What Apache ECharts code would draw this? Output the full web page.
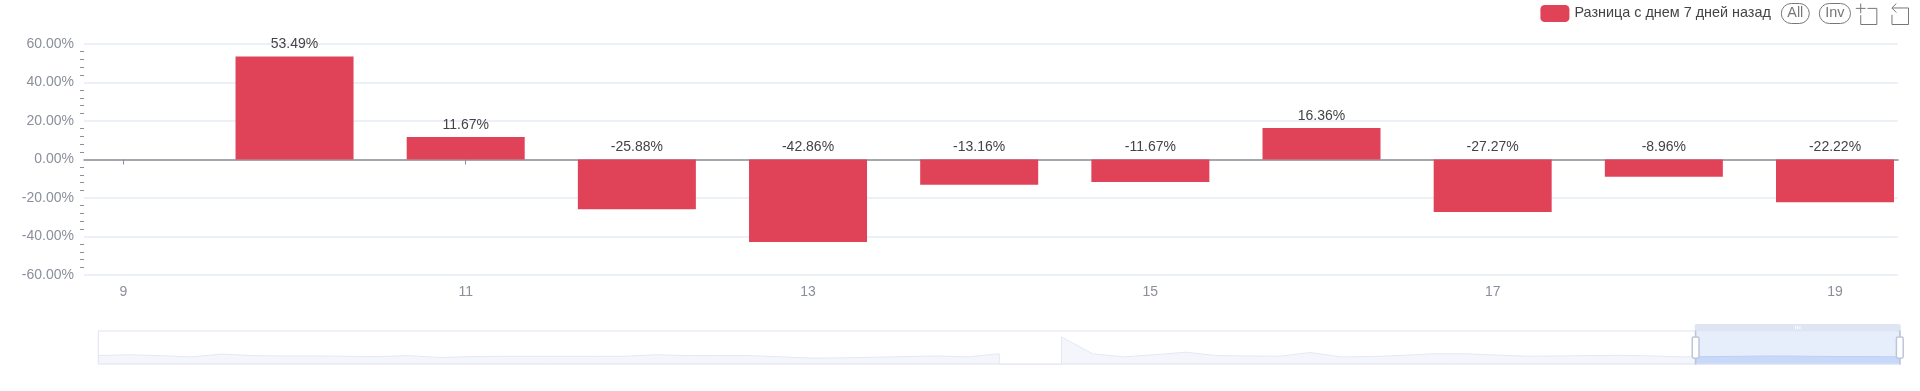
<!DOCTYPE html>
<html>
<head>
<meta charset="utf-8">
<title>Разница с днем 7 дней назад</title>
<style>
  html, body { margin: 0; padding: 0; background: #fff; }
  #main { width: 1920px; height: 391px; }
</style>
<script src="https://cdn.jsdelivr.net/npm/echarts@6/dist/echarts.min.js"></script>
</head>
<body>
<div id="main"></div>
<script>
// часы и значения на основном графике
var hours = [9, 10, 11, 12, 13, 14, 15, 16, 17, 18, 19];
var diffs = [null, 53.49, 11.67, -25.88, -42.86, -13.16, -11.67, 16.36, -27.27, -8.96, -22.22];
var hourTicks = [9, 11, 13, 15, 17, 19];
var yTicks = [-60, -40, -20, 0, 20, 40, 60];
// значения для тени в dataZoom
var shadowHours = [-39, -38, -37, -36, -35, -34, -33, -32, -31, -30, -29, -28, -27, -26, -25, -24, -23, -22, -21, -20,
  -19, -18, -17, -16, -15, -14, -13, -12, -11, -10, -9, -8, -7, -6, -5, -4, -3, -2, -1, 0,
  1, 2, 3, 4, 5, 6, 7, 8, 9, 10, 11, 12, 13, 14, 15, 16, 17, 18, 19];
var shadowValues = [25, 28, 25, 21, 30, 25, 24, 24, 23, 22, 25, 19, 22, 23, 23, 23, 23, 23, 28, 25,
  25, 25, 21, 17, 18, 20, 22, 24, 21, 31, null, 85, 31, 21, 28, 36, 25, 24, 23, 35,
  21, 22, 26, 31, 31, 27, 23, 24, 25, 26, 24, 21, 22, 23, 24, 23, 22, 22, 21];

var seriesName = 'Разница с днем 7 дней назад';
var fontName = '"Liberation Sans", Arial, sans-serif';

function pairs(xs, ys) {
  return xs.map(function (x, i) { return [x, ys[i] === null ? '-' : ys[i]]; });
}

var myChart = echarts.init(document.getElementById('main'));

var option = {
  animation: false,
  textStyle: { fontFamily: fontName },
  legend: {
    data: [seriesName],
    top: -2,
    right: 64,
    itemWidth: 29,
    itemHeight: 17,
    itemGap: 6,
    textStyle: { fontSize: 14.4, color: '#444' },
    selector: [
      { type: 'all', title: 'All' },
      { type: 'inverse', title: 'Inv' }
    ],
    selectorLabel: { fontSize: 14.4, color: '#777', borderColor: '#777', padding: [3, 6] },
    selectorItemGap: 9,
    selectorButtonGap: 10
  },
  toolbox: {
    top: -14,
    right: -6,
    itemSize: 21,
    itemGap: 10,
    feature: {
      dataZoom: { yAxisIndex: 'none', title: { zoom: '', back: '' } }
    },
    iconStyle: { borderColor: '#777' }
  },
  grid: { left: 84, right: 22, top: 44, bottom: 116, outerBoundsMode: 'none' },
  xAxis: {
    type: 'value',
    min: -73.3,
    max: 19.368,
    splitLine: { show: false },
    axisLine: { onZero: true, lineStyle: { color: '#8a8f99', width: 1.5 } },
    axisTick: { length: 5, customValues: hourTicks, lineStyle: { color: '#8a8f99' } },
    axisLabel: { margin: 10, fontSize: 14, color: '#8a8f99', customValues: hourTicks }
  },
  yAxis: {
    type: 'value',
    min: yTicks[0],
    max: yTicks[yTicks.length - 1],
    interval: 20,
    axisLine: { show: false },
    axisTick: { show: false },
    minorTick: { show: true, splitNumber: 5, length: 4, lineStyle: { color: '#8a8f99' } },
    splitLine: { lineStyle: { color: '#e6edf5', width: 1.5 } },
    axisLabel: {
      fontSize: 14,
      color: '#8a8f99',
      margin: 10,
      formatter: function (v) { return v.toFixed(2) + '%'; }
    }
  },
  dataZoom: [
    {
      type: 'slider',
      xAxisIndex: 0,
      filterMode: 'none',
      startValue: 8.772,
      endValue: 19.368,
      left: 95,
      right: 22,
      top: 324,
      height: 34,
      showDetail: false,
      borderColor: '#dde3f2',
      fillerColor: 'rgba(190,210,248,0.38)',
      dataBackground: {
        lineStyle: { color: '#e4e8f5', width: 1 },
        areaStyle: { color: '#f4f6fb', opacity: 1 }
      },
      selectedDataBackground: {
        lineStyle: { color: '#bccdf3', width: 1 },
        areaStyle: { color: '#cfdcf8', opacity: 1 }
      },
      moveHandleStyle: { color: '#dfe5f3', opacity: 1 },
      handleStyle: { borderColor: '#bcc5dc', borderWidth: 1.5 }
    }
  ],
  series: [
    {
      // скрытая серия, только для тени в слайдере
      name: 'shadow',
      type: 'line',
      data: pairs(shadowHours, shadowValues),
      showSymbol: false,
      silent: true,
      lineStyle: { opacity: 0 },
      tooltip: { show: false }
    },
    {
      name: seriesName,
      type: 'bar',
      barWidth: 118,
      data: pairs(hours, diffs),
      itemStyle: { color: '#e04358' },
      label: {
        show: true,
        position: 'top',
        fontSize: 14,
        color: '#444',
        distance: 5,
        formatter: function (p) { return p.value[1].toFixed(2) + '%'; }
      }
    }
  ]
};

myChart.setOption(option);
window.addEventListener('resize', function () {
  myChart.resize();
});
</script>
</body>
</html>
